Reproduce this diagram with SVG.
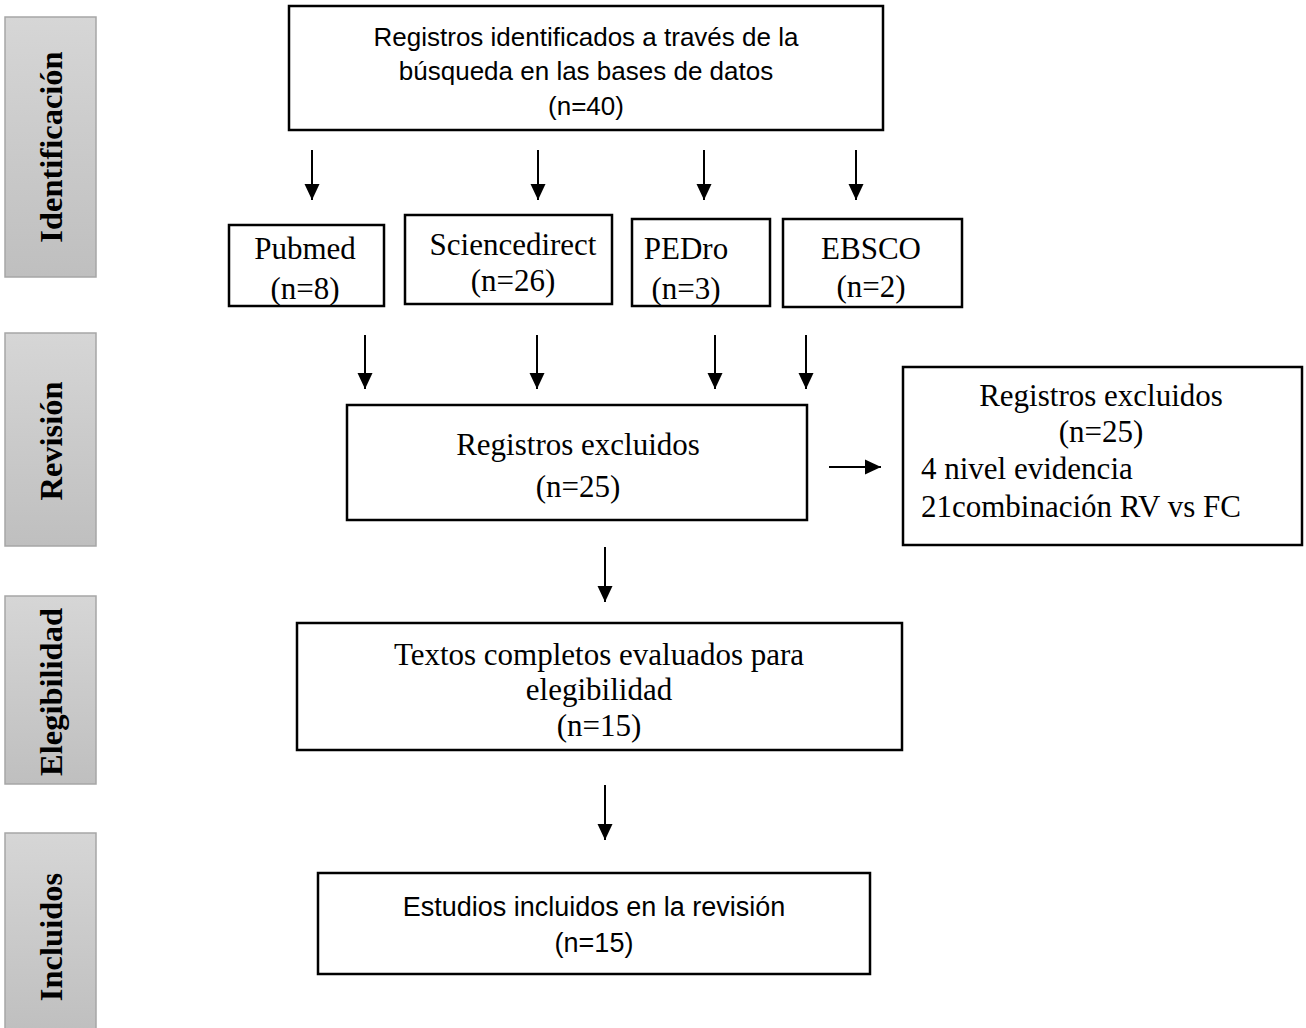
<svg xmlns="http://www.w3.org/2000/svg" width="1306" height="1028" viewBox="0 0 1306 1028">
<defs>
<linearGradient id="side" x1="0" y1="0" x2="0" y2="1">
<stop offset="0" stop-color="#d6d6d6"/>
<stop offset="1" stop-color="#bfbfbf"/>
</linearGradient>
<marker id="ah" markerUnits="userSpaceOnUse" markerWidth="16" markerHeight="16" viewBox="0 0 16 16" refX="16" refY="8" orient="auto">
<path d="M0,0.5 L16,8 L0,15.5 z" fill="#000"/>
</marker>
<style>
.side{fill:url(#side);stroke:#a6a6a6;stroke-width:1.5}
.sl{font-family:"Liberation Serif","Times New Roman",serif;font-weight:bold;font-size:32.5px;fill:#000;text-anchor:middle}
.box{fill:#fff;stroke:#000;stroke-width:2.5}
.t{font-family:"Liberation Serif","Times New Roman",serif;font-size:31px;fill:#000;text-anchor:middle}
.tl{font-family:"Liberation Serif","Times New Roman",serif;font-size:31px;fill:#000}
.c{font-family:"Liberation Sans",Arial,sans-serif;font-size:26px;fill:#000;text-anchor:middle}
.c2{font-family:"Liberation Sans",Arial,sans-serif;font-size:27px;fill:#000;text-anchor:middle}
.ar{stroke:#000;stroke-width:2;fill:none;marker-end:url(#ah)}
</style>
</defs>
<g id="side-identificacion">
<rect class="side" x="5" y="17" width="91" height="260"/>
<text class="sl" transform="translate(62,147) rotate(-90)">Identificación</text>
</g>
<g id="side-revision">
<rect class="side" x="5" y="333" width="91" height="213"/>
<text class="sl" transform="translate(62,441) rotate(-90)">Revisión</text>
</g>
<g id="side-elegibilidad">
<rect class="side" x="5" y="596" width="91" height="188"/>
<text class="sl" transform="translate(62,692) rotate(-90)">Elegibilidad</text>
</g>
<g id="side-incluidos">
<rect class="side" x="5" y="833" width="91" height="200"/>
<text class="sl" transform="translate(62,937) rotate(-90)">Incluidos</text>
</g>
<g id="node-registros">
<rect class="box" x="289" y="6" width="594" height="124"/>
<text class="c" x="586" y="46">Registros identificados a través de la</text>
<text class="c" x="586" y="80">búsqueda en las bases de datos</text>
<text class="c" x="586" y="115">(n=40)</text>
</g>
<g id="node-pubmed">
<rect class="box" x="229" y="225" width="155" height="81"/>
<text class="t" x="305" y="259">Pubmed</text>
<text class="t" x="305" y="299">(n=8)</text>
</g>
<g id="node-sciencedirect">
<rect class="box" x="405" y="215" width="207" height="89"/>
<text class="t" x="513" y="255">Sciencedirect</text>
<text class="t" x="513" y="291">(n=26)</text>
</g>
<g id="node-pedro">
<rect class="box" x="632" y="219" width="138" height="87"/>
<text class="t" x="686" y="259">PEDro</text>
<text class="t" x="686" y="299">(n=3)</text>
</g>
<g id="node-ebsco">
<rect class="box" x="783" y="219" width="179" height="88"/>
<text class="t" x="871" y="259">EBSCO</text>
<text class="t" x="871" y="297">(n=2)</text>
</g>
<g id="node-excluidos">
<rect class="box" x="347" y="405" width="460" height="115"/>
<text class="t" x="578" y="455">Registros excluidos</text>
<text class="t" x="578" y="497">(n=25)</text>
</g>
<g id="node-excluidos-detalle">
<rect class="box" x="903" y="367" width="399" height="178"/>
<text class="t" x="1101" y="406">Registros excluidos</text>
<text class="t" x="1101" y="442">(n=25)</text>
<text class="tl" x="921" y="479">4 nivel evidencia</text>
<text class="tl" x="921" y="517">21combinación RV vs FC</text>
</g>
<g id="node-textos">
<rect class="box" x="297" y="623" width="605" height="127"/>
<text class="t" x="599" y="665">Textos completos evaluados para</text>
<text class="t" x="599" y="700">elegibilidad</text>
<text class="t" x="599" y="736">(n=15)</text>
</g>
<g id="node-estudios">
<rect class="box" x="318" y="873" width="552" height="101"/>
<text class="c2" x="594" y="916">Estudios incluidos en la revisión</text>
<text class="c2" x="594" y="952">(n=15)</text>
</g>
<g id="connectors">
<line class="ar" x1="312" y1="150" x2="312" y2="200"/>
<line class="ar" x1="538" y1="150" x2="538" y2="200"/>
<line class="ar" x1="704" y1="150" x2="704" y2="200"/>
<line class="ar" x1="856" y1="150" x2="856" y2="200"/>
<line class="ar" x1="365" y1="335" x2="365" y2="389"/>
<line class="ar" x1="537" y1="335" x2="537" y2="389"/>
<line class="ar" x1="715" y1="335" x2="715" y2="389"/>
<line class="ar" x1="806" y1="335" x2="806" y2="389"/>
<line class="ar" x1="829" y1="467" x2="881" y2="467"/>
<line class="ar" x1="605" y1="547" x2="605" y2="602"/>
<line class="ar" x1="605" y1="785" x2="605" y2="840"/>
</g>
</svg>
